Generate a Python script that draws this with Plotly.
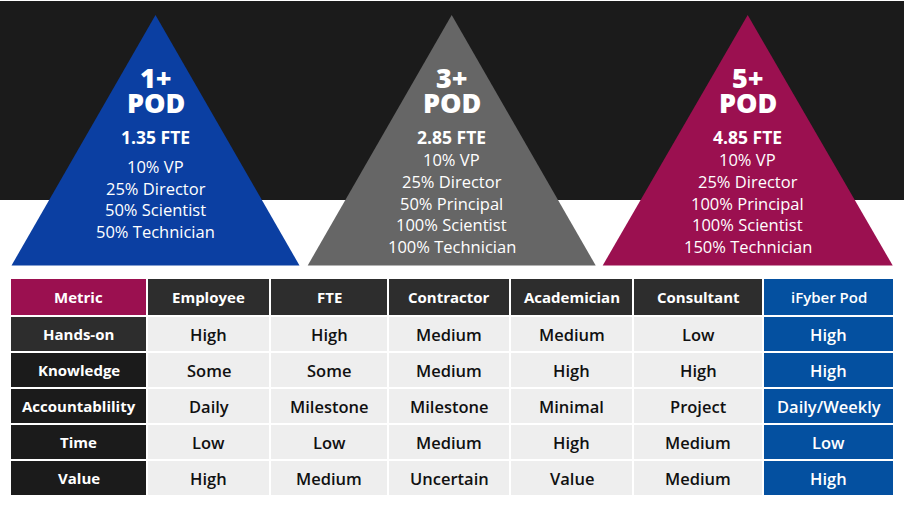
import plotly.graph_objects as go

# ---------------- data ----------------
pod_titles = ["1+", "3+", "5+"]
pod_fte = ["1.35 FTE", "2.85 FTE", "4.85 FTE"]
pod_roles = [
    ["10% VP", "25% Director", "50% Scientist", "50% Technician"],
    ["10% VP", "25% Director", "50% Principal", "100% Scientist", "100% Technician"],
    ["10% VP", "25% Director", "100% Principal", "100% Scientist", "150% Technician"],
]
pod_colors = ["#0b3fa2", "#666666", "#9b1050"]

columns = ["Metric", "Employee", "FTE", "Contractor", "Academician", "Consultant", "iFyber Pod"]
metrics = ["Hands-on", "Knowledge", "Accountablility", "Time", "Value"]
employee = ["High", "Some", "Daily", "Low", "High"]
fte = ["High", "Some", "Milestone", "Low", "Medium"]
contractor = ["Medium", "Medium", "Milestone", "Medium", "Uncertain"]
academician = ["Medium", "High", "Minimal", "High", "Value"]
consultant = ["Low", "High", "Project", "Medium", "Medium"]
ifyber = ["High", "High", "Daily/Weekly", "Low", "High"]

# ---------------- layout constants ----------------
W, H = 904, 510
FONT = "Open Sans"
pod_cx = [155.5, 451.7, 747.7]
pod_half = [144, 144, 145]
apex_y, base_y = 15, 265.5

col_bounds = [(11, 146), (148, 269), (271, 387), (389, 509), (511, 632), (634, 762), (764, 893)]
header_y = (279, 315)
row_bounds = [(317, 351), (353, 387), (389, 423), (425, 459), (461, 495)]

fig = go.Figure()
shapes = []
annotations = []

# dark band
shapes.append(dict(type="rect", x0=0, x1=W, y0=1, y1=200, fillcolor="#1b1b1b", line_width=0, layer="below"))

# pyramids
for i in range(3):
    cx, hw = pod_cx[i], pod_half[i]
    fig.add_trace(go.Scatter(
        x=[cx, cx + hw, cx - hw, cx], y=[apex_y, base_y, base_y, apex_y],
        mode="lines", fill="toself", fillcolor=pod_colors[i],
        line=dict(width=0, color=pod_colors[i]), hoverinfo="skip", showlegend=False))
    annotations.append(dict(x=cx, y=77, text=pod_titles[i], showarrow=False, height=24,
                            font=dict(family=FONT, size=27, color="white", weight=800)))
    annotations.append(dict(x=cx, y=102, text="POD", showarrow=False, height=24,
                            font=dict(family=FONT, size=27, color="white", weight=800)))
    annotations.append(dict(x=cx, y=137, text=pod_fte[i], showarrow=False,
                            font=dict(family=FONT, size=17.5, color="white", weight=700)))
    roles = pod_roles[i]
    if len(roles) == 4:
        ys = [166, 188, 209.5, 231]
    else:
        ys = [159, 181, 203, 224.5, 246.5]
    for r, yy in zip(roles, ys):
        annotations.append(dict(x=cx, y=yy, text=r, showarrow=False,
                                font=dict(family=FONT, size=16.5, color="white", weight=400)))

# table
table_cols = [metrics, employee, fte, contractor, academician, consultant, ifyber]
for j, name in enumerate(columns):
    x0, x1 = col_bounds[j]
    if j == 0:
        hc = "#9b1050"
    elif j == len(columns) - 1:
        hc = "#0450a0"
    else:
        hc = "#2d2d2d"
    shapes.append(dict(type="rect", x0=x0, x1=x1, y0=header_y[0], y1=header_y[1],
                       fillcolor=hc, line_width=0, layer="below"))
    annotations.append(dict(x=(x0 + x1) / 2, y=(header_y[0] + header_y[1]) / 2,
                            text=name, showarrow=False,
                            font=dict(family=FONT, size=15, color="white",
                                      weight=700 if j < len(columns) - 1 else 600)))
    for k, (y0, y1) in enumerate(row_bounds):
        val = table_cols[j][k]
        if j == 0:
            fc = "#2d2d2d" if k == 0 else "#1b1b1b"
            tc = "white"
            fw = 700
            fs = 15
        elif j == len(columns) - 1:
            fc = "#0450a0"
            tc = "white"
            fw = 600
            fs = 16.5
        else:
            fc = "#eeeeee"
            tc = "#111111"
            fw = 600
            fs = 16.5
        shapes.append(dict(type="rect", x0=x0, x1=x1, y0=y0, y1=y1,
                           fillcolor=fc, line_width=0, layer="below"))
        annotations.append(dict(x=(x0 + x1) / 2, y=(y0 + y1) / 2, text=val, showarrow=False,
                                font=dict(family=FONT, size=fs, color=tc, weight=fw)))

fig.update_layout(
    width=W, height=H, margin=dict(l=0, r=0, t=0, b=0),
    paper_bgcolor="white", plot_bgcolor="white",
    xaxis=dict(range=[0, W], visible=False, fixedrange=True),
    yaxis=dict(range=[H, 0], visible=False, fixedrange=True),
    shapes=shapes, annotations=annotations, showlegend=False,
)
fig.write_html("out.html", config={"displayModeBar": False},
               post_script="document.body.style.margin='0';document.body.style.padding='0';")
